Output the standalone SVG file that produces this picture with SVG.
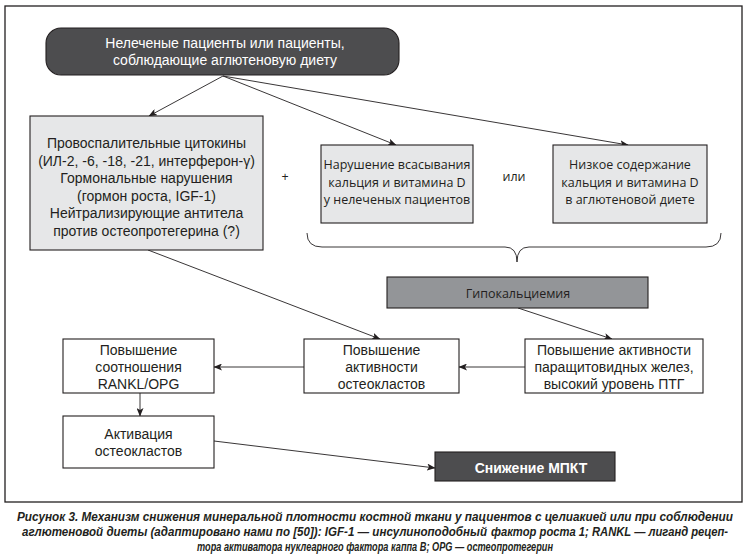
<svg xmlns="http://www.w3.org/2000/svg" width="751" height="559" viewBox="0 0 751 559">
<defs>
<marker id="ah" markerWidth="9" markerHeight="7" refX="8" refY="3.5" orient="auto" markerUnits="userSpaceOnUse">
<path d="M0,0 L8.5,3.5 L0,7 L2,3.5 z" fill="#231f20"/>
</marker>
<style>
.box{stroke:#231f20;stroke-width:1.1}
.lg{fill:#e6e7e8}
.wh{fill:#ffffff}
.dk{fill:#4d4d4f}
.md{fill:#939598}
.hv{font-family:"Liberation Sans",Arial,sans-serif;font-size:14px;fill:#231f20;text-anchor:middle}
.my{font-family:"Open Sans","Noto Sans",sans-serif;font-size:12.5px;fill:#231f20;text-anchor:middle}
.wt{fill:#ffffff}
.con line{stroke:#231f20;stroke-width:0.9;marker-end:url(#ah)}
.cap{font-family:"Liberation Sans",Arial,sans-serif;font-size:12px;font-weight:bold;font-style:italic;fill:#231f20;text-anchor:middle}
.cap.st{text-anchor:start}
.cap.en{text-anchor:end}
</style>
</defs>
<rect width="751" height="559" fill="#ffffff"/>
<rect x="5" y="6" width="737" height="496" fill="none" stroke="#231f20" stroke-width="1.3"/>

<g id="connectors" class="con">
<line x1="223" y1="76" x2="149" y2="116"/>
<line x1="223" y1="76" x2="396" y2="145"/>
<line x1="223" y1="76" x2="628" y2="145"/>
<line x1="148" y1="250" x2="380" y2="339"/>
<line x1="518" y1="308" x2="612" y2="339"/>
<line x1="525" y1="367" x2="459" y2="367"/>
<line x1="304" y1="367" x2="214" y2="367"/>
<line x1="140" y1="393" x2="140" y2="416"/>
<line x1="214" y1="441" x2="435" y2="468"/>
</g>

<g id="top">
<rect class="box dk" x="46" y="28" width="353" height="47" rx="15" ry="15"/>
<text class="hv wt" x="225" y="48">Нелеченые пациенты или пациенты,</text>
<text class="hv wt" x="225" y="64.5">соблюдающие аглютеновую диету</text>
</g>

<g id="factors">
<rect class="box lg" x="30" y="116" width="233" height="134"/>
<text class="hv" x="146.5" y="148">Провоспалительные цитокины</text>
<text class="hv" x="146.5" y="165.5">(ИЛ-2, -6, -18, -21, интерферон-γ)</text>
<text class="hv" x="146.5" y="183">Гормональные нарушения</text>
<text class="hv" x="146.5" y="200.5">(гормон роста, IGF-1)</text>
<text class="hv" x="146.5" y="218">Нейтрализирующие антитела</text>
<text class="hv" x="146.5" y="235.5">против остеопротегерина (?)</text>
</g>

<text class="my" x="285" y="181">+</text>

<g id="absorb">
<rect class="box lg" x="321" y="145" width="152" height="78"/>
<text class="my" x="397" y="169">Нарушение всасывания</text>
<text class="my" x="397" y="186.5">кальция и витамина D</text>
<text class="my" x="397" y="204">у нелеченых пациентов</text>
</g>

<text class="my" x="514" y="181">или</text>

<g id="lowcontent">
<rect class="box lg" x="553" y="145" width="154" height="78"/>
<text class="my" x="630" y="169">Низкое содержание</text>
<text class="my" x="630" y="186.5">кальция и витамина D</text>
<text class="my" x="630" y="204">в аглютеновой диете</text>
</g>

<path d="M307,233 Q307,247 322,247 L505,247 Q517,247 517,262 Q517,247 529,247 L706,247 Q721,247 721,233" fill="none" stroke="#231f20" stroke-width="0.9"/>

<g id="hypocalcemia">
<rect class="box md" x="387" y="277" width="261" height="31"/>
<text class="my" x="518" y="297.5">Гипокальциемия</text>
</g>

<g id="rankl">
<rect class="box wh" x="63" y="339" width="151" height="54"/>
<text class="hv" x="138.5" y="355">Повышение</text>
<text class="hv" x="138.5" y="372">соотношения</text>
<text class="hv" x="138.5" y="389">RANKL/OPG</text>
</g>

<g id="osteoclast-activity">
<rect class="box wh" x="304" y="339" width="155" height="54"/>
<text class="hv" x="381.5" y="355">Повышение</text>
<text class="hv" x="381.5" y="372">активности</text>
<text class="hv" x="381.5" y="389">остеокластов</text>
</g>

<g id="parathyroid">
<rect class="box wh" x="525" y="339" width="178" height="54"/>
<text class="hv" x="614" y="355">Повышение активности</text>
<text class="hv" x="614" y="372">паращитовидных желез,</text>
<text class="hv" x="614" y="389">высокий уровень ПТГ</text>
</g>

<g id="activation">
<rect class="box wh" x="63" y="416" width="151" height="52"/>
<text class="hv" x="138.5" y="439">Активация</text>
<text class="hv" x="138.5" y="456">остеокластов</text>
</g>

<g id="bmd">
<rect class="box dk" x="435" y="452" width="180" height="29"/>
<text class="hv wt" x="531" y="473" font-weight="bold">Снижение МПКТ</text>
</g>

<g id="caption">
<text class="cap" x="375" y="521" textLength="716" lengthAdjust="spacingAndGlyphs">Рисунок 3. Механизм снижения минеральной плотности костной ткани у пациентов с целиакией или при соблюдении</text>
<text class="cap st" x="22" y="536" textLength="465" lengthAdjust="spacingAndGlyphs">аглютеновой диеты (адаптировано нами по [50]): IGF-1 — инсулиноподобный</text>
<text class="cap en" x="728" y="536" textLength="237" lengthAdjust="spacingAndGlyphs">фактор роста 1; RANKL — лиганд рецеп-</text>
<text class="cap" x="375" y="551" textLength="356" lengthAdjust="spacingAndGlyphs">тора активатора нуклеарного фактора каппа B; OPG — остеопротегерин</text>
</g>
</svg>
